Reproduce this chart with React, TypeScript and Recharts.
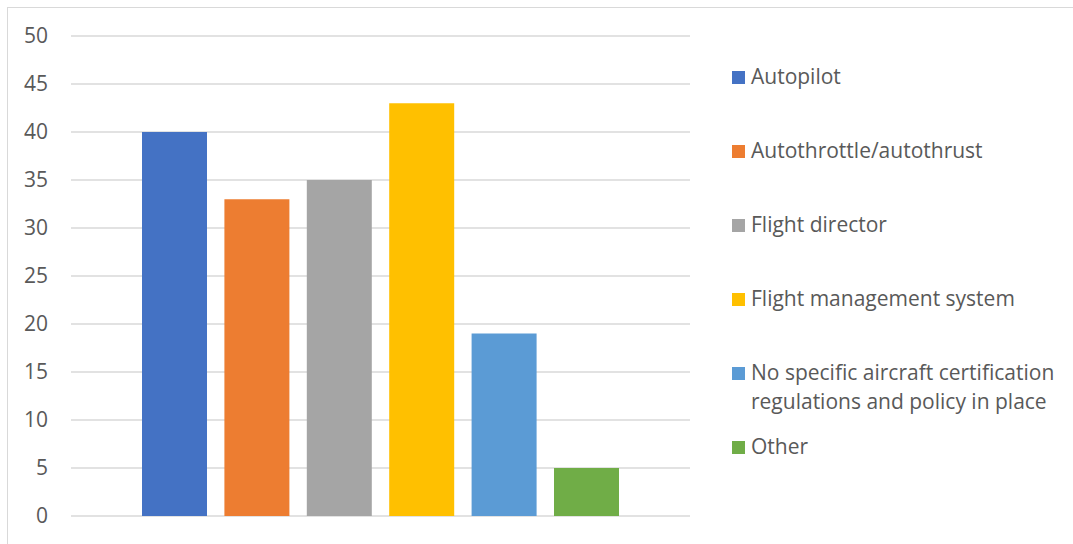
import React from "react";
import { BarChart, Bar, XAxis, YAxis, CartesianGrid } from "recharts";

const categories = ["Functions"];
const seriesNames = [
  "Autopilot",
  "Autothrottle/autothrust",
  "Flight director",
  "Flight management system",
  "No specific aircraft certification regulations and policy in place",
  "Other",
];
const seriesValues = [40, 33, 35, 43, 19, 5];
const yTicks = [0, 5, 10, 15, 20, 25, 30, 35, 40, 45, 50];

const colors = ["#4472C4", "#ED7D31", "#A5A5A5", "#FFC000", "#5B9BD5", "#70AD47"];
const legendLines: Record<string, string[]> = {
  "No specific aircraft certification regulations and policy in place": [
    "No specific aircraft certification",
    "regulations and policy in place",
  ],
};

const data = categories.map((c) => {
  const row: Record<string, string | number> = { name: c };
  seriesNames.forEach((s, i) => {
    row[s] = seriesValues[i];
  });
  return row;
});

const FONT = "'Open Sans', 'Noto Sans', sans-serif";
const TEXT = "#595959";

const LegendBox = () => (
  <div
    style={{
      position: "absolute",
      left: 724,
      top: 54,
      fontFamily: FONT,
      fontSize: 21,
      color: TEXT,
    }}
  >
    {seriesNames.map((name, i) => (
      <div key={name} style={{ height: 74, display: "flex", alignItems: "flex-start" }}>
        <span
          style={{
            width: 13,
            height: 13,
            background: colors[i],
            display: "inline-block",
            marginTop: 9,
            marginRight: 6,
            flexShrink: 0,
          }}
        />
        <div style={{ lineHeight: "29px" }}>
          {(legendLines[name] || [name]).map((l) => (
            <div key={l} style={{ whiteSpace: "nowrap" }}>
              {l}
            </div>
          ))}
        </div>
      </div>
    ))}
  </div>
);

export default function App() {
  return (
    <div
      style={{
        position: "fixed",
        left: 0,
        top: 0,
        width: 1073,
        height: 544,
        overflow: "hidden",
        background: "#fff",
      }}
    >
      <div
        style={{
          position: "absolute",
          left: 7,
          top: 7,
          width: 1080,
          height: 560,
          border: "1px solid #d9d9d9",
          boxSizing: "border-box",
        }}
      >
        <BarChart
          width={1078}
          height={540}
          data={data}
          margin={{ top: 28, right: 396, bottom: 32, left: 13 }}
          barCategoryGap={71}
          barGap={17.4}
        >
          <CartesianGrid vertical={false} stroke="#d9d9d9" strokeWidth={1.3} />
          <XAxis dataKey="name" hide />
          <YAxis
            domain={[0, 50]}
            ticks={yTicks}
            width={50}
            axisLine={false}
            tickLine={false}
            tickMargin={17}
            tick={{ fill: TEXT, fontSize: 21, fontFamily: FONT }}
            interval={0}
          />
          {seriesNames.map((s, i) => (
            <Bar key={s} dataKey={s} fill={colors[i]} isAnimationActive={false} />
          ))}
        </BarChart>
        <LegendBox />
      </div>
    </div>
  );
}
